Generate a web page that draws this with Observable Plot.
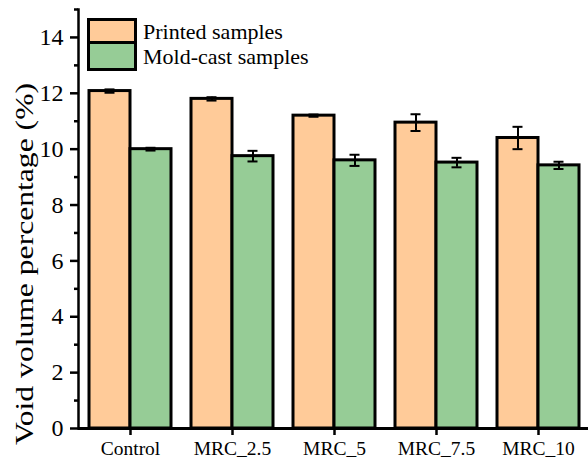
<!DOCTYPE html>
<html>
<head>
<meta charset="utf-8">
<script src="https://cdn.jsdelivr.net/npm/d3@7"></script>
<script src="https://cdn.jsdelivr.net/npm/@observablehq/plot@0.6"></script>
<style>
  html, body { margin: 0; padding: 0; background: #fff; }
  #chart { position: relative; width: 588px; height: 462px; overflow: hidden; font-family: "Liberation Serif", "Times New Roman", serif; }
  #legend { position: absolute; left: 87px; top: 18px; }
  .row { display: flex; align-items: center; height: 27px; }
  .row + .row { margin-top: -2px; }
  .swatch { box-sizing: border-box; width: 50px; height: 28px; border: 3px solid #000; }
  .row + .row .swatch { height: 30px; margin-top: -1px; }
  .name { margin-left: 6px; font-size: 22px; line-height: 22px; color: #000; }
</style>
</head>
<body>
<div id="chart"><div id="legend"></div></div>
<script>
// Void volume percentage by mix, printed vs mold-cast specimens
const groups = ["Control", "MRC_2.5", "MRC_5", "MRC_7.5", "MRC_10"];
const series = ["Printed samples", "Mold-cast samples"];
const printed = [12.08, 11.8, 11.2, 10.95, 10.4];
const printedErr = [0.06, 0.06, 0.04, 0.3, 0.4];
const moldCast = [10.0, 9.75, 9.6, 9.52, 9.42];
const moldCastErr = [0.05, 0.19, 0.2, 0.17, 0.13];
const colors = ["#FFCB99", "#96CC96"];
const majorTicks = [0, 2, 4, 6, 8, 10, 12, 14];
const minorTicks = [1, 3, 5, 7, 9, 11, 13, 15];
const yTitle = "Void volume percentage (%)";

const rows = groups.flatMap((g, i) => [
  {group: g, series: series[0], value: printed[i], err: printedErr[i]},
  {group: g, series: series[1], value: moldCast[i], err: moldCastErr[i]}
]);
const rowsP = rows.filter(d => d.series === series[0]);
const rowsM = rows.filter(d => d.series === series[1]);

// band layout: step 102.5px, group width 82px, two adjacent bars per group
const bandwidth = 82;
const half = bandwidth / 2;
const capHalf = 5;
const capInsetNear = half / 2 - capHalf;
const capInsetFar = bandwidth - capInsetNear - 2 * capHalf;

// error bar: vertical rule plus top and bottom caps, centred on its bar
const errorMarks = (data, dx, insetLeft, insetRight) => [
  Plot.ruleX(data, {x: "group", y1: d => d.value - d.err, y2: d => d.value + d.err, dx, stroke: "#000", strokeWidth: 2}),
  Plot.tickY(data, {x: "group", y: d => d.value - d.err, insetLeft, insetRight, stroke: "#000", strokeWidth: 2}),
  Plot.tickY(data, {x: "group", y: d => d.value + d.err, insetLeft, insetRight, stroke: "#000", strokeWidth: 2})
];

const chart = Plot.plot({
  width: 588,
  height: 462,
  marginLeft: 78,
  marginRight: 0,
  marginTop: 9,
  marginBottom: 34,
  style: {fontFamily: "'Liberation Serif', serif", fontSize: "22px", color: "#000", background: "transparent", overflow: "visible"},
  x: {domain: groups, range: [78, 590.5], paddingInner: 0.2, paddingOuter: 0.1, label: null},
  y: {domain: [0, 15], label: null},
  color: {domain: series, range: colors},
  marks: [
    Plot.barY(rowsP, {x: "group", y: "value", fill: "series", stroke: "#000", strokeWidth: 3, insetRight: half}),
    Plot.barY(rowsM, {x: "group", y: "value", fill: "series", stroke: "#000", strokeWidth: 3, insetLeft: half}),
    ...errorMarks(rowsP, -half / 2, capInsetNear, capInsetFar),
    ...errorMarks(rowsM, half / 2, capInsetFar, capInsetNear),
    Plot.axisY({ticks: majorTicks, tickSize: 8, tickPadding: 7, strokeWidth: 2.5, fontSize: 24, label: null}),
    Plot.axisY({ticks: minorTicks, tickSize: 4, tickFormat: () => "", strokeWidth: 2.5, label: null}),
    Plot.axisX({tickSize: 7, tickPadding: 6, strokeWidth: 2.5, fontSize: 19.5, label: null}),
    Plot.ruleY([0], {stroke: "#000", strokeWidth: 3}),
    Plot.frame({anchor: "left", stroke: "#000", strokeWidth: 2.5}),
    Plot.text([yTitle], {frameAnchor: "left", textAnchor: "middle", rotate: -90, dx: -54, dy: 45, fontSize: 25, fill: "#000"})
  ]
});

const root = document.getElementById("chart");
root.insertBefore(chart, root.firstChild);

// stretch the rotated y title along its length to 362px
const titleNode = Array.from(chart.querySelectorAll("text")).find(t => t.textContent === yTitle);
if (titleNode) {
  const len = titleNode.getComputedTextLength();
  const k = len > 0 ? 362 / len : 1;
  const tr = titleNode.getAttribute("transform") || "";
  titleNode.setAttribute("transform", tr + ` scale(${k},1)`);
}

// legend: stacked outlined swatches with series names
const legend = document.getElementById("legend");
series.forEach((name, i) => {
  const row = document.createElement("div");
  row.className = "row";
  const sw = document.createElement("div");
  sw.className = "swatch";
  sw.style.background = colors[i];
  const label = document.createElement("span");
  label.className = "name";
  label.textContent = name;
  row.appendChild(sw);
  row.appendChild(label);
  legend.appendChild(row);
});
</script>
</body>
</html>
